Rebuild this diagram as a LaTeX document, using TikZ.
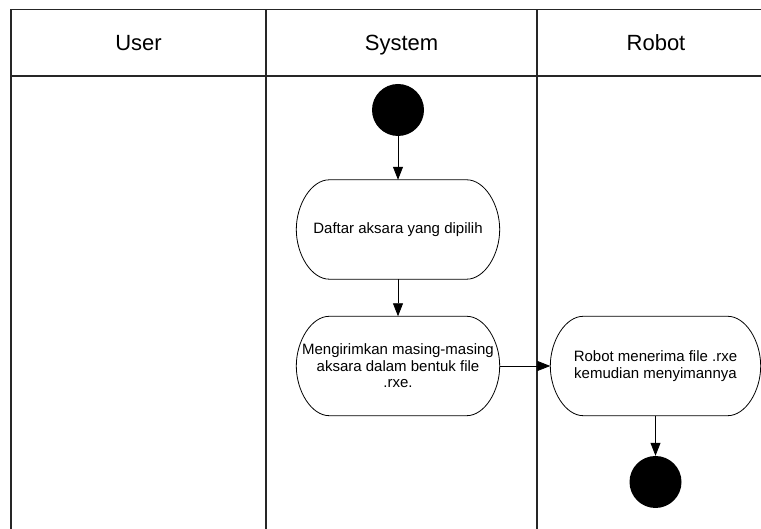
\documentclass[tikz,border=0pt]{standalone}
\usepackage{fontspec}
\setmainfont{Liberation Sans}
\usetikzlibrary{arrows.meta}
\usetikzlibrary{positioning,calc}
\tikzset{
    lane/.style={
        draw=black!85,
        line width=1.6pt
    },
    flow/.style={
        draw,
        -{Triangle[length=13pt, width=10pt]},
        line width=0.8pt
    },
    actline/.style={
        draw,
        line width=0.8pt
    }
}
% outline of an activity: flat top and bottom, rounded ends
\newcommand{\actoutline}[1]{%
  \draw[actline] ([xshift=33pt]#1.north west) -- ([xshift=-33pt]#1.north east)
    .. controls ([xshift=-15pt]#1.north east) and ([yshift=25pt]#1.east) .. (#1.east)
    .. controls ([yshift=-25pt]#1.east) and ([xshift=-15pt]#1.south east) .. ([xshift=-33pt]#1.south east)
    -- ([xshift=33pt]#1.south west)
    .. controls ([xshift=15pt]#1.south west) and ([yshift=-25pt]#1.west) .. (#1.west)
    .. controls ([yshift=25pt]#1.west) and ([xshift=15pt]#1.north west) .. cycle;}

\begin{document}
\begin{tikzpicture}[x=1pt, y=1pt]
  \tikzset{
    header/.style={
      anchor=base,
      font=\fontsize{22}{26}\selectfont
    },
    activity/.style={
      minimum width=203pt,
      minimum height=99pt,
      inner sep=0pt,
      align=center,
      font=\fontsize{15}{16.5}\selectfont
    },
    initial/.style={
      circle,
      fill=black,
      minimum size=52pt,
      inner sep=0pt
    }
  }
  \useasboundingbox (0,0) rectangle (761,529);
  \clip (0,0) rectangle (761,529);

  % Swimlanes
  \draw[lane] (11,-10) -- (11,519.5) -- (790,519.5);
  \draw[lane] (11,453) -- (790,453);
  \draw[lane] (266,-10) -- (266,519.5);
  \draw[lane] (537,-10) -- (537,519.5);

  \node[header] (user) at (138.5,478) {User};
  \node[header] (system) at (401.5,478) {System};
  \node[header] (robot) at (656,478) {Robot};

  % Activities
  \node[initial] (start) at (398,419) {};
  \node[activity] (pilih) at (398,299.5) {Daftar aksara yang dipilih};
  \node[activity] (kirim) at (398,163) {Mengirimkan masing-masing\\aksara dalam bentuk file\\.rxe.};
  \node[activity, minimum width=210pt] (terima) at (655.5,163) {Robot menerima file .rxe\\kemudian menyimannya};
  \node[initial] (finish) at (655.5,47) {};

  \actoutline{pilih}
  \actoutline{kirim}
  \actoutline{terima}

  % Flow
  \draw[flow] (start) -- (pilih);
  \draw[flow] (pilih) -- (kirim);
  \draw[flow] (kirim) -- (terima);
  \draw[flow] (terima) -- (finish);
\end{tikzpicture}
\end{document}
